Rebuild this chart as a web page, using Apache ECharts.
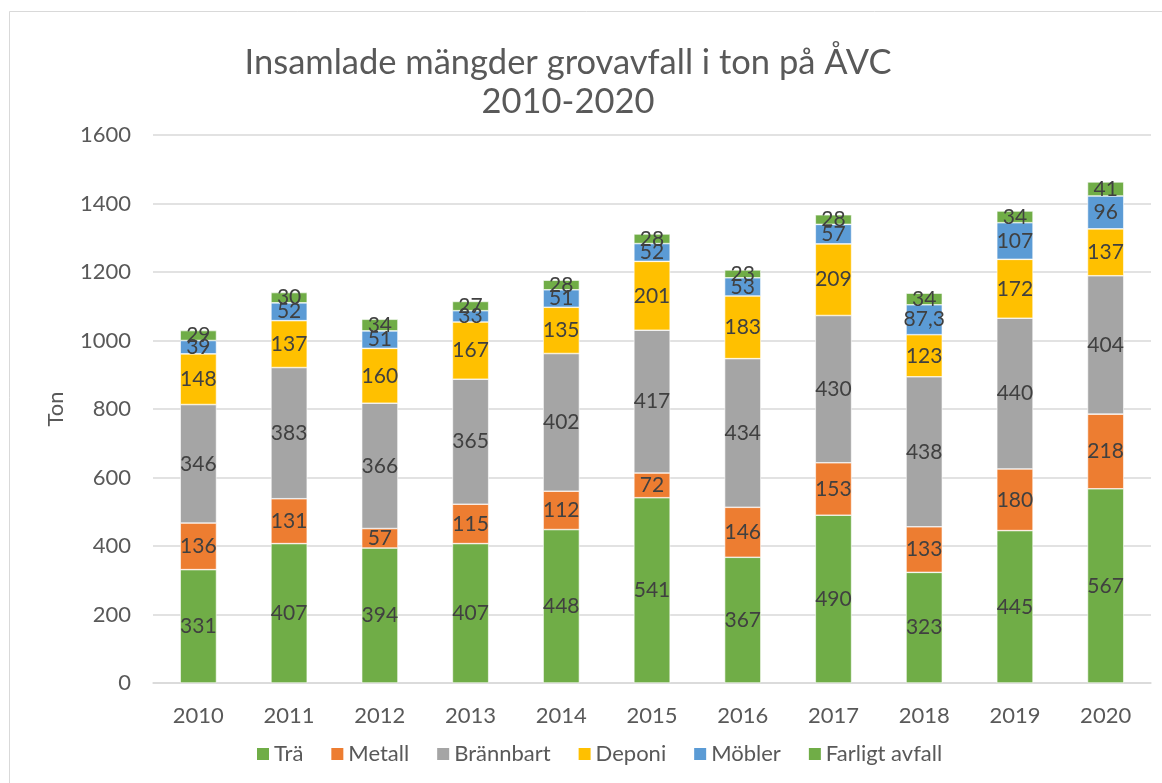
<!DOCTYPE html>
<html>
<head>
<meta charset="utf-8">
<script src="https://cdn.jsdelivr.net/npm/echarts@6/dist/echarts.min.js"></script>
<style>
  body { margin: 0; background: #fff; }
  #main { width: 1162px; height: 783px; }
</style>
</head>
<body>
<div id="main"></div>
<script>
// år på x-axeln
var years = ['2010', '2011', '2012', '2013', '2014', '2015', '2016', '2017', '2018', '2019', '2020'];

// insamlade mängder per fraktion (ton)
var tra      = [331, 407, 394, 407, 448, 541, 367, 490, 323, 445, 567];
var metall   = [136, 131,  57, 115, 112,  72, 146, 153, 133, 180, 218];
var brannbart= [346, 383, 366, 365, 402, 417, 434, 430, 438, 440, 404];
var deponi   = [148, 137, 160, 167, 135, 201, 183, 209, 123, 172, 137];
var mobler   = [ 39,  52,  51,  33,  51,  52,  53,  57, 87.3, 107, 96];
var farligt  = [ 29,  30,  34,  27,  28,  28,  23,  28,  34,  34,  41];

var seriesNames = ['Trä', 'Metall', 'Brännbart', 'Deponi', 'Möbler', 'Farligt avfall'];
var seriesData = [tra, metall, brannbart, deponi, mobler, farligt];
var colors = ['#70AD47', '#ED7D31', '#A5A5A5', '#FFC000', '#5B9BD5', '#70AD47'];

var font = 'Lato, "Open Sans", sans-serif';

var myChart = echarts.init(document.getElementById('main'));

var series = seriesNames.map(function (name, i) {
    return {
        name: name,
        type: 'bar',
        stack: 'total',
        barWidth: '40%',
        data: seriesData[i],
        itemStyle: { color: colors[i], borderColor: '#ffffff', borderWidth: 0.6 },
        label: {
            show: true,
            position: 'inside',
            color: '#404040',
            fontFamily: font,
            fontSize: 21,
            formatter: function (p) {
                return String(p.value).replace('.', ',');
            }
        }
    };
});

var option = {
    backgroundColor: '#ffffff',
    animation: false,
    color: colors,
    title: {
        text: 'Insamlade mängder grovavfall i ton på ÅVC\n2010-2020',
        left: 563,
        top: 38,
        textAlign: 'center',
        textStyle: {
            color: '#595959',
            fontFamily: font,
            fontWeight: 'normal',
            fontSize: 34.5,
            lineHeight: 39
        }
    },
    graphic: [{
        type: 'rect',
        shape: { x: 9.5, y: 11.5, width: 1200, height: 800 },
        style: { fill: 'none', stroke: '#D9D9D9', lineWidth: 1 },
        silent: true
    }],
    legend: {
        left: 252,
        top: 738,
        itemWidth: 12,
        itemHeight: 12,
        itemGap: 28,
        icon: 'rect',
        textStyle: { color: '#595959', fontFamily: font, fontSize: 22 },
        data: seriesNames.map(function (n, i) { return { name: n, itemStyle: { color: colors[i], borderWidth: 0 } }; })
    },
    grid: {
        left: 153,
        right: 11,
        top: 135,
        bottom: 100
    },
    xAxis: {
        type: 'category',
        data: years,
        axisLine: { lineStyle: { color: '#D9D9D9', width: 1.5 } },
        axisTick: { show: false },
        axisLabel: { color: '#595959', fontFamily: font, fontSize: 22, margin: 22 }
    },
    yAxis: {
        type: 'value',
        min: 0,
        max: 1600,
        interval: 200,
        name: 'Ton',
        nameLocation: 'middle',
        nameGap: 86,
        nameTextStyle: { color: '#595959', fontFamily: font, fontSize: 22 },
        axisLine: { show: false },
        axisTick: { show: false },
        axisLabel: {
            color: '#595959', fontFamily: font, fontSize: 22, margin: 22,
            formatter: function (v) { return String(v); }
        },
        splitLine: { lineStyle: { color: '#D9D9D9', width: 1.5 } }
    },
    series: series
};

myChart.setOption(option);
</script>
</body>
</html>
